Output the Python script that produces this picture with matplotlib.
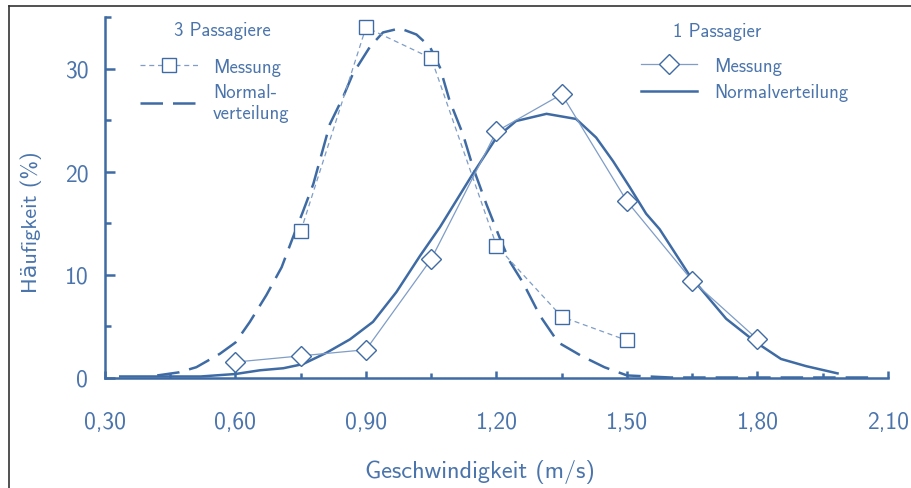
import matplotlib.pyplot as plt
import matplotlib as mpl
from matplotlib.lines import Line2D

mpl.rcParams['axes.unicode_minus'] = False
mpl.rcParams['font.family'] = ['cmss10', 'DejaVu Sans']

BLUE = '#3f6ba4'
LIGHT = '#7f9dc7'
TEXT = '#4a74ab'

# Messung, 3 Passagiere
x_m3 = [0.75, 0.90, 1.05, 1.20, 1.35, 1.50]
y_m3 = [14.2, 34.0, 31.0, 12.8, 5.9, 3.6]

# Messung, 1 Passagier
x_m1 = [0.60, 0.75, 0.90, 1.05, 1.20, 1.35, 1.50, 1.65, 1.80]
y_m1 = [1.5, 2.1, 2.7, 11.5, 23.9, 27.5, 17.1, 9.4, 3.7]

# Normalverteilung, 3 Passagiere
x_n3 = [0.42, 0.47, 0.51, 0.564, 0.60, 0.633, 0.671, 0.706, 0.732, 0.755, 0.779,
        0.817, 0.847, 0.870, 0.909, 0.939, 0.978, 1.016, 1.047, 1.07, 1.092,
        1.123, 1.146, 1.177, 1.207, 1.230, 1.261, 1.30, 1.342, 1.395, 1.448,
        1.50, 1.60, 1.80, 2.06]
y_n3 = [0.2, 0.5, 1.0, 2.3, 3.4, 5.4, 8.0, 10.7, 13.6, 16.1, 18.8,
        24.6, 27.2, 29.5, 32.1, 33.5, 33.9, 33.3, 32.1, 30.1, 26.9,
        23.6, 20.4, 16.8, 13.6, 11.3, 9.2, 6.0, 3.4, 2.1, 1.0,
        0.2, 0.0, 0.0, 0.0]

# Normalverteilung, 1 Passagier
x_n1 = [0.335, 0.52, 0.60, 0.656, 0.71, 0.755, 0.809, 0.863, 0.916, 0.97, 1.024,
        1.07, 1.146, 1.20, 1.245, 1.315, 1.383, 1.429, 1.468, 1.506, 1.544,
        1.575, 1.644, 1.728, 1.797, 1.854, 1.912, 1.984]
y_n1 = [0.1, 0.1, 0.34, 0.7, 0.9, 1.3, 2.4, 3.7, 5.4, 8.3, 11.8,
        14.6, 19.8, 23.3, 24.9, 25.6, 25.1, 23.3, 21.0, 18.5, 15.9,
        14.4, 9.9, 5.7, 3.4, 1.8, 1.1, 0.4]

xticks = [0.30, 0.60, 0.90, 1.20, 1.50, 1.80, 2.10]
xticklabels = ['0,30', '0,60', '0,90', '1,20', '1,50', '1,80', '2,10']
yticks = [0, 10, 20, 30]

fig = plt.figure(figsize=(9.11, 4.89), dpi=100)
ax = fig.add_axes([105 / 911, 1 - 378.5 / 489, 783 / 911, 360.5 / 489])

ln_n3, = ax.plot(x_n3, y_n3, color=BLUE, lw=1.8, dashes=(9, 4), zorder=2)
ln_n1, = ax.plot(x_n1, y_n1, color=BLUE, lw=1.8, zorder=2)
ln_m3, = ax.plot(x_m3, y_m3, color=LIGHT, lw=0.9, dashes=(4, 3), marker='s', ms=10.5,
                 mfc='white', mec=BLUE, mew=1.0, zorder=3)
ln_m1, = ax.plot(x_m1, y_m1, color=LIGHT, lw=0.9, marker='D', ms=10.0,
                 mfc='white', mec=BLUE, mew=1.0, zorder=3)

ax.set_xlim(0.30, 2.10)
ax.set_ylim(0, 35)
ax.set_xticks(xticks)
ax.set_xticklabels(xticklabels)
ax.set_xticks([0.45, 0.75, 1.05, 1.35, 1.65, 1.95], minor=True)
ax.set_yticks(yticks)
ax.set_yticks([5, 15, 25, 35], minor=True)

for s in ['top', 'right']:
    ax.spines[s].set_visible(False)
for s in ['left', 'bottom']:
    ax.spines[s].set_color(BLUE)
    ax.spines[s].set_linewidth(1.8)

ax.tick_params(axis='both', which='both', direction='in', color=BLUE, width=1.8,
               labelcolor=TEXT, labelsize=17)
ax.tick_params(axis='x', which='major', length=5, pad=24)
ax.tick_params(axis='x', which='minor', length=3.5)
ax.tick_params(axis='y', which='major', length=7, pad=12)
ax.tick_params(axis='y', which='minor', length=4)

ax.set_xlabel('Geschwindigkeit (m/s)', fontsize=17.5, color=TEXT)
ax.xaxis.set_label_coords(0.479, -0.225)
ax.set_ylabel('Häufigkeit (%)', fontsize=16, color=TEXT)
ax.yaxis.set_label_coords(-0.080, 0.434)

# Legenden-Titel
fig.text(222 / 911, 1 - 31 / 489, '3 Passagiere', ha='center', va='center',
         fontsize=13.5, color=TEXT)
fig.text(717 / 911, 1 - 32 / 489, '1 Passagier', ha='center', va='center',
         fontsize=13.5, color=TEXT)

leg1 = ax.legend([ln_m3, ln_n3], ['Messung', 'Normal-\nverteilung'],
                 loc='upper left', borderpad=0, borderaxespad=0,
                 bbox_to_anchor=(140 / 911, 1 - 59 / 489), bbox_transform=fig.transFigure,
                 frameon=False, fontsize=13.5,
                 handlelength=3.1, handletextpad=0.8, labelspacing=0.38, labelcolor=TEXT)
ax.add_artist(leg1)

leg2 = ax.legend([ln_m1, ln_n1], ['Messung', 'Normalverteilung'],
                 loc='upper left', borderpad=0, borderaxespad=0,
                 bbox_to_anchor=(641 / 911, 1 - 58 / 489), bbox_transform=fig.transFigure,
                 frameon=False, fontsize=13.5,
                 handlelength=3.0, handletextpad=0.9, labelspacing=0.45, labelcolor=TEXT)

# Rahmen oben und links
fig.add_artist(Line2D([9 / 911, 9 / 911], [0, 1 - 7 / 489], color='#333333', lw=1.2))
fig.add_artist(Line2D([9 / 911, 1], [1 - 7 / 489, 1 - 7 / 489], color='#333333', lw=1.2))

plt.savefig('out.png', dpi=100)
